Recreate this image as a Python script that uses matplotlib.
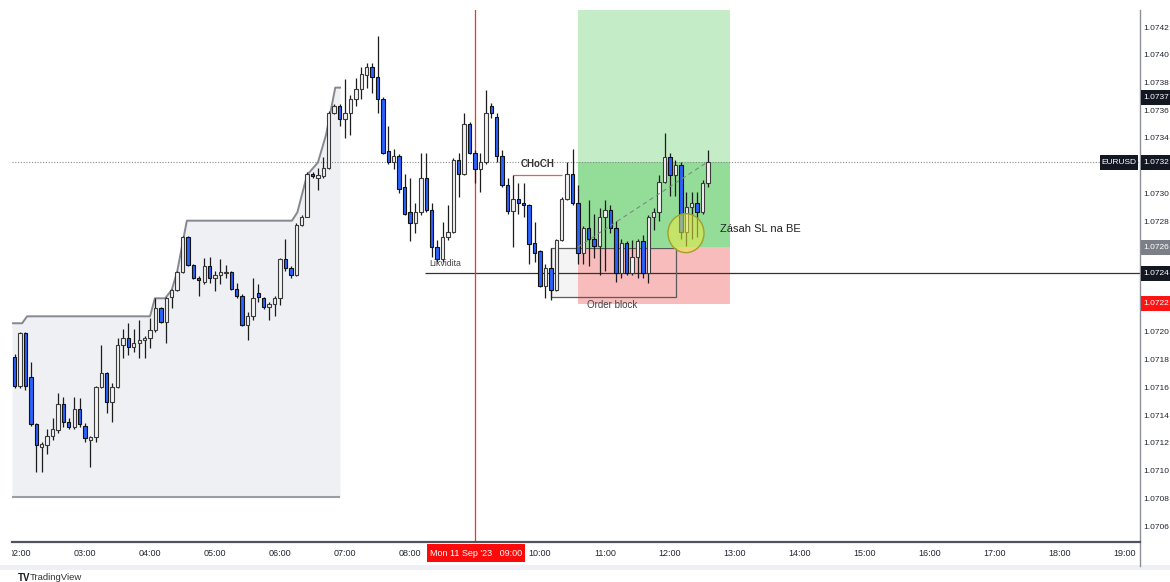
import numpy as np
import matplotlib
matplotlib.use("Agg")
import matplotlib.pyplot as plt
from matplotlib.patches import Rectangle, Ellipse
from matplotlib.transforms import blended_transform_factory, Bbox, TransformedBbox

plt.rcParams['font.family'] = ['Liberation Sans', 'DejaVu Sans']

# ---------------- data (EURUSD, 5-minute bars from 01:55, Mon 11 Sep 2023) ----------------
opens = [1.07183, 1.07162, 1.07200, 1.07168, 1.07134, 1.07118, 1.07119, 1.07126, 1.07130, 1.07149,
         1.07136, 1.07132, 1.07145, 1.07133, 1.07123, 1.07125, 1.07161, 1.07171, 1.07150, 1.07161,
         1.07191, 1.07196, 1.07190, 1.07193, 1.07195, 1.07196, 1.07202, 1.07218, 1.07208, 1.07226,
         1.07231, 1.07244, 1.07269, 1.07249, 1.07240, 1.07237, 1.07248, 1.07240, 1.07242, 1.07243,
         1.07244, 1.07232, 1.07227, 1.07206, 1.07212, 1.07229, 1.07225, 1.07219, 1.07221, 1.07225,
         1.07253, 1.07247, 1.07242, 1.07278, 1.07284, 1.07315, 1.07312, 1.07313, 1.07319, 1.07359,
         1.07364, 1.07354, 1.07359, 1.07369, 1.07376, 1.07386, 1.07392, 1.07385, 1.07369, 1.07331,
         1.07323, 1.07328, 1.07305, 1.07287, 1.07279, 1.07287, 1.07312, 1.07289, 1.07262, 1.07253,
         1.07269, 1.07273, 1.07325, 1.07315, 1.07351, 1.07330, 1.07318, 1.07323, 1.07364, 1.07356,
         1.07328, 1.07307, 1.07288, 1.07297, 1.07294, 1.07292, 1.07265, 1.07259, 1.07234, 1.07247,
         1.07231, 1.07267, 1.07297, 1.07315, 1.07294, 1.07258, 1.07276, 1.07268, 1.07263, 1.07284,
         1.07289, 1.07276, 1.07243, 1.07265, 1.07243, 1.07255, 1.07266, 1.07243, 1.07284, 1.07287,
         1.07309, 1.07327, 1.07314, 1.07321, 1.07273, 1.07291, 1.07294, 1.07287, 1.07308]
highs = [1.07185, 1.07201, 1.07201, 1.07179, 1.07135, 1.07121, 1.07131, 1.07139, 1.07157, 1.07154,
         1.07139, 1.07154, 1.07153, 1.07135, 1.07126, 1.07162, 1.07191, 1.07172, 1.07164, 1.07196,
         1.07203, 1.07207, 1.07203, 1.07209, 1.07198, 1.07211, 1.07225, 1.07219, 1.07226, 1.07232,
         1.07245, 1.07270, 1.07270, 1.07250, 1.07241, 1.07254, 1.07255, 1.07245, 1.07253, 1.07249,
         1.07245, 1.07236, 1.07228, 1.07215, 1.07240, 1.07235, 1.07226, 1.07222, 1.07227, 1.07254,
         1.07268, 1.07248, 1.07279, 1.07285, 1.07316, 1.07316, 1.07319, 1.07327, 1.07360, 1.07365,
         1.07365, 1.07383, 1.07372, 1.07384, 1.07392, 1.07395, 1.07395, 1.07414, 1.07370, 1.07349,
         1.07333, 1.07329, 1.07315, 1.07312, 1.07294, 1.07330, 1.07330, 1.07294, 1.07267, 1.07280,
         1.07292, 1.07326, 1.07330, 1.07359, 1.07352, 1.07332, 1.07330, 1.07375, 1.07366, 1.07359,
         1.07332, 1.07312, 1.07314, 1.07308, 1.07308, 1.07293, 1.07280, 1.07260, 1.07250, 1.07261,
         1.07268, 1.07298, 1.07323, 1.07333, 1.07307, 1.07277, 1.07296, 1.07286, 1.07290, 1.07296,
         1.07292, 1.07281, 1.07268, 1.07266, 1.07267, 1.07268, 1.07271, 1.07285, 1.07290, 1.07314,
         1.07344, 1.07330, 1.07325, 1.07323, 1.07302, 1.07302, 1.07302, 1.07310, 1.07332]
lows = [1.07160, 1.07160, 1.07159, 1.07133, 1.07100, 1.07100, 1.07113, 1.07123, 1.07128, 1.07132,
        1.07131, 1.07131, 1.07132, 1.07121, 1.07103, 1.07121, 1.07160, 1.07142, 1.07136, 1.07160,
        1.07182, 1.07184, 1.07186, 1.07182, 1.07182, 1.07189, 1.07201, 1.07207, 1.07193, 1.07218,
        1.07230, 1.07243, 1.07248, 1.07239, 1.07227, 1.07235, 1.07236, 1.07230, 1.07235, 1.07240,
        1.07231, 1.07225, 1.07205, 1.07195, 1.07209, 1.07222, 1.07217, 1.07209, 1.07212, 1.07220,
        1.07245, 1.07240, 1.07241, 1.07277, 1.07284, 1.07312, 1.07303, 1.07312, 1.07318, 1.07358,
        1.07349, 1.07341, 1.07343, 1.07364, 1.07369, 1.07377, 1.07373, 1.07359, 1.07329, 1.07322,
        1.07318, 1.07301, 1.07285, 1.07266, 1.07272, 1.07285, 1.07287, 1.07255, 1.07251, 1.07251,
        1.07267, 1.07272, 1.07298, 1.07314, 1.07329, 1.07308, 1.07302, 1.07322, 1.07355, 1.07323,
        1.07305, 1.07286, 1.07262, 1.07286, 1.07284, 1.07250, 1.07251, 1.07233, 1.07225, 1.07224,
        1.07230, 1.07266, 1.07296, 1.07292, 1.07250, 1.07250, 1.07248, 1.07254, 1.07242, 1.07245,
        1.07272, 1.07237, 1.07240, 1.07242, 1.07242, 1.07240, 1.07240, 1.07236, 1.07274, 1.07281,
        1.07308, 1.07299, 1.07299, 1.07268, 1.07263, 1.07268, 1.07269, 1.07286, 1.07305]
closes = [1.07162, 1.07200, 1.07162, 1.07134, 1.07119, 1.07120, 1.07126, 1.07131, 1.07149, 1.07136,
          1.07132, 1.07145, 1.07134, 1.07124, 1.07125, 1.07161, 1.07171, 1.07150, 1.07161, 1.07191,
          1.07196, 1.07190, 1.07193, 1.07195, 1.07196, 1.07202, 1.07218, 1.07208, 1.07225, 1.07231,
          1.07244, 1.07269, 1.07249, 1.07240, 1.07238, 1.07248, 1.07240, 1.07242, 1.07244, 1.07244,
          1.07232, 1.07227, 1.07206, 1.07212, 1.07225, 1.07226, 1.07219, 1.07221, 1.07225, 1.07253,
          1.07247, 1.07242, 1.07278, 1.07284, 1.07315, 1.07313, 1.07314, 1.07319, 1.07359, 1.07364,
          1.07354, 1.07359, 1.07369, 1.07376, 1.07387, 1.07392, 1.07385, 1.07369, 1.07330, 1.07323,
          1.07328, 1.07304, 1.07286, 1.07279, 1.07287, 1.07312, 1.07289, 1.07262, 1.07253, 1.07269,
          1.07273, 1.07325, 1.07315, 1.07351, 1.07330, 1.07318, 1.07323, 1.07359, 1.07359, 1.07328,
          1.07307, 1.07288, 1.07297, 1.07294, 1.07292, 1.07264, 1.07258, 1.07234, 1.07247, 1.07231,
          1.07267, 1.07297, 1.07315, 1.07294, 1.07258, 1.07276, 1.07268, 1.07263, 1.07284, 1.07289,
          1.07276, 1.07243, 1.07265, 1.07243, 1.07255, 1.07266, 1.07243, 1.07284, 1.07287, 1.07309,
          1.07327, 1.07314, 1.07321, 1.07273, 1.07291, 1.07294, 1.07287, 1.07308, 1.07323]

first_bar_offset = -1          # first bar is 01:55, one bar before 02:00
hour_labels = ["02:00", "03:00", "04:00", "05:00", "06:00", "07:00", "08:00", "09:00", "10:00",
               "11:00", "12:00", "13:00", "14:00", "15:00", "16:00", "17:00", "18:00", "19:00"]
bars_per_hour = 12

# stepped range line and shaded box (left)
range_t = [-1.48, 0.4, 1.3, 24.0, 24.9, 26.8, 28.0, 29.0, 30.8, 50.2, 51.2, 53.0, 55.0, 56.5, 58.2, 59.08]
range_p = [1.07207, 1.07207, 1.07212, 1.07212, 1.07225, 1.07225, 1.07231, 1.07244, 1.07281, 1.07281,
           1.07287, 1.07314, 1.07323, 1.07343, 1.07377, 1.07377]
range_low = 1.07082

current_price = 1.07323
liquidity_level = 1.07243
entry_price = 1.07262
stop_price = 1.07221
target_price = 1.07450
marked_level = 1.07370
choch_level = 1.07314
ob_top, ob_bottom = 1.07261, 1.07226
price_ticks = [1.0742, 1.0740, 1.0738, 1.0736, 1.0734, 1.0730, 1.0728, 1.0720, 1.0718,
               1.0716, 1.0714, 1.0712, 1.0710, 1.0708, 1.0706]

# ---------------- figure ----------------
W, H = 1170, 582
fig = plt.figure(figsize=(W / 100, H / 100), dpi=100)
fig.patch.set_facecolor('white')
L_PX, R_PX, T_PX, B_PX = 12, 1140, 10, 541
ax = fig.add_axes([L_PX / W, 1 - B_PX / H, (R_PX - L_PX) / W, (B_PX - T_PX) / H])
ax.set_xlim(-1.48, 206.77)
ax.set_ylim(1.070499, 1.074330)
ax.axis('off')

o = np.array(opens); h = np.array(highs); l = np.array(lows); c = np.array(closes)
x = np.arange(len(o)) + first_bar_offset

# shaded range box
ax.fill_between(range_t, range_p, range_low, color='#eef0f4', lw=0, zorder=0.5)
ax.plot(range_t, range_p, color='#85888f', lw=1.4, zorder=1)
ax.hlines(range_low, range_t[0], range_t[-1], color='#9a9da5', lw=1.5, zorder=1)

# long position tool
pos_x0, pos_x1 = 103.0, 131.1
ax.add_patch(Rectangle((pos_x0, current_price), pos_x1 - pos_x0, target_price - current_price,
                       facecolor='#c4edc7', edgecolor='none', zorder=0.6))
ax.add_patch(Rectangle((pos_x0, entry_price), pos_x1 - pos_x0, current_price - entry_price,
                       facecolor='#93dd99', edgecolor='none', zorder=0.6))
ax.add_patch(Rectangle((pos_x0, stop_price), pos_x1 - pos_x0, entry_price - stop_price,
                       facecolor='#f8bcbc', edgecolor='none', zorder=0.6))

# order block
ob_x0, ob_x1 = 98.0, 121.1
ax.add_patch(Rectangle((ob_x0, ob_bottom), pos_x0 - ob_x0, ob_top - ob_bottom,
                       facecolor='#f4f4f4', edgecolor='none', zorder=0.55))
ax.add_patch(Rectangle((ob_x0, ob_bottom), ob_x1 - ob_x0, ob_top - ob_bottom,
                       facecolor='none', edgecolor='#5a5a5a', lw=0.9, zorder=2.5))
ax.text(104.7, 1.07220, "Order block", fontsize=7, color='#444444', va='center', ha='left', zorder=5)

# current price dotted line
ax.axhline(current_price, color='#8a8a8a', lw=0.8, ls=(0, (1, 1.5)), zorder=2)
# liquidity line
ax.hlines(liquidity_level, 74.8, 206.77, color='#333333', lw=0.9, zorder=2)
ax.text(75.5, 1.07250, "Likvidita", fontsize=6.3, color='#444444', va='center', ha='left', zorder=5)
# red session line at 09:00
ax.axvline(7 * bars_per_hour, color='#ff2a2a', lw=0.9, zorder=2)
# CHoCH
ax.hlines(choch_level, 91.0, 100.1, color='#e06060', lw=0.9, zorder=2)
ax.text(95.6, 1.07322, "CHoCH", fontsize=7, fontweight='bold', color='#333333', ha='center', va='center', zorder=5)

# candles
up = c >= o
lo_b = np.minimum(o, c)
hb = np.maximum(np.abs(c - o), 0.000004)
ax.vlines(x, l, h, color='#1c1c1c', lw=0.9, zorder=3)
ax.bar(x[up], hb[up], bottom=lo_b[up], width=0.62, color='#f3f3f3', edgecolor='#3a3a3a', lw=0.8, zorder=4)
ax.bar(x[~up], hb[~up], bottom=lo_b[~up], width=0.62, color='#2962ff', edgecolor='#111111', lw=0.8, zorder=4)

# dashed position line
ax.plot([pos_x0, 126.8], [entry_price, current_price], color='#7d8a7f', lw=0.8, ls=(0, (4, 3)), zorder=5)
# highlight ellipse
ax.add_patch(Ellipse((122.95, 1.07272), 6.65, 0.000281, facecolor=(0.92, 0.92, 0.25, 0.55),
                     edgecolor='#a0a02a', lw=1.0, zorder=5))
ax.text(129.2, 1.07275, "Zásah SL na BE", fontsize=8.0, color='#222222', va='center', ha='left', zorder=5)

# ---------------- axes furniture ----------------
fx = lambda px: px / W
fy = lambda py: 1 - py / H
fig.add_artist(plt.Line2D([fx(R_PX), fx(R_PX)], [fy(T_PX), fy(566)], color='#8c8f98', lw=1.0))
fig.add_artist(plt.Line2D([fx(L_PX), fx(R_PX)], [fy(542), fy(542)], color='#50535e', lw=1.6))
fig.add_artist(Rectangle((0, fy(570)), 1, (570 - 565) / H, transform=fig.transFigure,
                         facecolor='#eef0f5', edgecolor='none'))

yt = blended_transform_factory(fig.transFigure, ax.transData)
AX_FS = 6.0
for p in price_ticks:
    fig.text(fx(1143.5), p, f"{p:.4f}", transform=yt, fontsize=AX_FS, color='#222631', va='center', ha='left')

box_h = 0.000108
def price_box(p, color):
    fig.add_artist(Rectangle((fx(1141), p - box_h / 2), fx(40), box_h, transform=yt,
                             facecolor=color, edgecolor='none', zorder=5))
    fig.text(fx(1143.5), p, f"{p:.4f}", transform=yt, fontsize=AX_FS, color='white',
             va='center', ha='left', zorder=6)

price_box(marked_level, '#131722')
price_box(current_price, '#131722')
price_box(entry_price, '#7c7f88')
price_box(liquidity_level, '#131722')
price_box(stop_price, '#ff1414')
fig.add_artist(Rectangle((fx(1100), current_price - box_h / 2), fx(38), box_h, transform=yt,
                         facecolor='#131722', edgecolor='none', zorder=5))
fig.text(fx(1119), current_price, "EURUSD", transform=yt, fontsize=6.0, color='white',
         va='center', ha='center', zorder=6)

xt = blended_transform_factory(ax.transData, fig.transFigure)
clip = TransformedBbox(Bbox.from_extents(fx(L_PX), 0, fx(R_PX), 1), fig.transFigure)
for k, lab in enumerate(hour_labels):
    if lab == "09:00":
        continue
    t = fig.text(k * bars_per_hour, fy(553), lab, transform=xt, fontsize=6.5, color='#222631',
                 ha='center', va='center')
    t.set_clip_on(True)
    t.set_clip_box(clip)
fig.add_artist(Rectangle((fx(427), fy(562)), fx(98), (562 - 544) / H, transform=fig.transFigure,
                         facecolor='#ff0a0a', edgecolor='none', zorder=5))
fig.text(fx(476), fy(553), "Mon 11 Sep '23   09:00", fontsize=6.5, color='white',
         ha='center', va='center', zorder=6)

fig.text(fx(18), fy(578), "TV", fontsize=7, fontweight='bold', color='#131722', ha='left', va='center')
fig.text(fx(30), fy(578), "TradingView", fontsize=6.8, color='#333333', ha='left', va='center')

fig.savefig("out.png", dpi=100, facecolor='white')
